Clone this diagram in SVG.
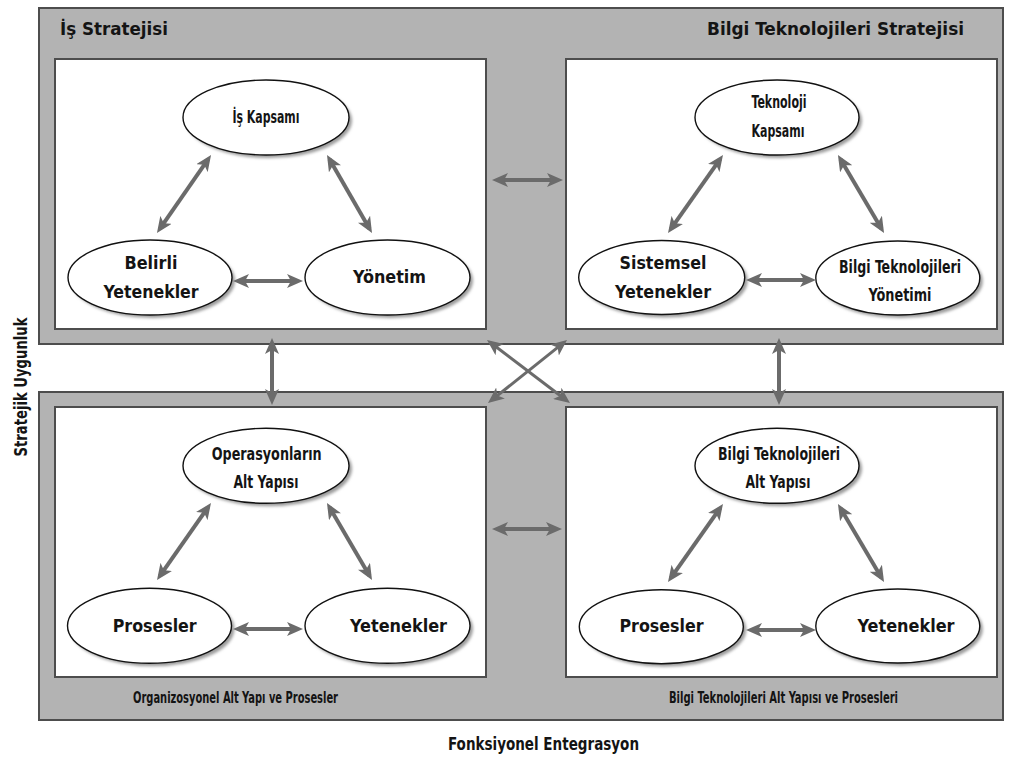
<svg xmlns="http://www.w3.org/2000/svg" width="1010" height="758" viewBox="0 0 1010 758">
  <defs>
    <style>
      .panel{fill:#b3b3b3;stroke:#4d4d4d;stroke-width:2}
      .box{fill:#ffffff;stroke:#4d4d4d;stroke-width:2}
      .node{fill:#ffffff;stroke:#111111;stroke-width:1.4}
      .shadow{fill:#9c9c9c;filter:url(#soft)}
      .arrow{stroke:#6b6b6b;stroke-width:4;fill:none;marker-start:url(#head);marker-end:url(#head)}
      .thin{stroke-width:3}
      text{font-family:"DejaVu Sans Condensed","DejaVu Sans","Liberation Sans",sans-serif;font-weight:bold;fill:#141414}
      .big{font-size:18px}
      .small{font-size:17px}
      .title{font-size:18px}
      .caption{font-size:16px}
      .axis{font-size:17px}
      .mid{text-anchor:middle}
    </style>
    <filter id="soft" x="-10%" y="-10%" width="120%" height="120%">
      <feGaussianBlur stdDeviation="1.5"/>
    </filter>
    <marker id="head" viewBox="0 0 16 14" refX="11" refY="7" markerWidth="16" markerHeight="14" markerUnits="userSpaceOnUse" orient="auto-start-reverse">
      <path d="M0,0 L16,7 L0,14 L4,7 Z" fill="#6b6b6b"/>
    </marker>
  </defs>

  <rect width="1010" height="758" fill="#ffffff"/>

  <!-- outer gray panels -->
  <rect class="panel" x="39" y="8" width="964" height="336"/>
  <rect class="panel" x="39" y="392" width="964" height="328"/>

  <!-- white quadrant boxes -->
  <rect class="box" x="55" y="59" width="431" height="270"/>
  <rect class="box" x="566" y="59" width="431" height="270"/>
  <rect class="box" x="55" y="407" width="431" height="270"/>
  <rect class="box" x="566" y="407" width="431" height="270"/>

  <!-- panel titles and axis labels -->
  <text class="title" x="60" y="35" textLength="108" lengthAdjust="spacingAndGlyphs">İş Stratejisi</text>
  <text class="title" x="707" y="35" textLength="257" lengthAdjust="spacingAndGlyphs">Bilgi Teknolojileri Stratejisi</text>
  <text class="caption mid" x="235.5" y="703" textLength="205" lengthAdjust="spacingAndGlyphs">Organizosyonel Alt Yapı ve Prosesler</text>
  <text class="caption mid" x="783.5" y="703" textLength="229" lengthAdjust="spacingAndGlyphs">Bilgi Teknolojileri Alt Yapısı ve Prosesleri</text>
  <text class="axis mid" x="543.5" y="750" textLength="191" lengthAdjust="spacingAndGlyphs">Fonksiyonel Entegrasyon</text>
  <text class="axis mid" transform="translate(27,387) rotate(-90)" x="0" y="0" textLength="139" lengthAdjust="spacingAndGlyphs">Stratejik Uygunluk</text>

  <!-- Business strategy -->
  <g id="is-kapsami">
    <ellipse class="shadow" cx="269" cy="120.5" rx="83" ry="37.5"/>
    <ellipse class="node" cx="266" cy="117.5" rx="83" ry="37.5"/>
    <text class="small mid" x="266" y="123" textLength="67" lengthAdjust="spacingAndGlyphs">İş Kapsamı</text>
  </g>
  <g id="belirli-yetenekler">
    <ellipse class="shadow" cx="153" cy="280.5" rx="82" ry="37.5"/>
    <ellipse class="node" cx="150" cy="277.5" rx="82" ry="37.5"/>
    <text class="big mid" x="151" y="269" textLength="53" lengthAdjust="spacingAndGlyphs">Belirli</text>
    <text class="big mid" x="151" y="298" textLength="95" lengthAdjust="spacingAndGlyphs">Yetenekler</text>
  </g>
  <g id="yonetim">
    <ellipse class="shadow" cx="390.5" cy="280.5" rx="82.5" ry="37.5"/>
    <ellipse class="node" cx="387.5" cy="277.5" rx="82.5" ry="37.5"/>
    <text class="big mid" x="389.5" y="283" textLength="73" lengthAdjust="spacingAndGlyphs">Yönetim</text>
  </g>

  <!-- IT strategy -->
  <g id="teknoloji-kapsami">
    <ellipse class="shadow" cx="780" cy="120.5" rx="82" ry="37.5"/>
    <ellipse class="node" cx="777" cy="117.5" rx="82" ry="37.5"/>
    <text class="small mid" x="779" y="108" textLength="55" lengthAdjust="spacingAndGlyphs">Teknoloji</text>
    <text class="small mid" x="778" y="137" textLength="53" lengthAdjust="spacingAndGlyphs">Kapsamı</text>
  </g>
  <g id="sistemsel-yetenekler">
    <ellipse class="shadow" cx="664.7" cy="280.5" rx="83" ry="37"/>
    <ellipse class="node" cx="661.7" cy="277.5" rx="83" ry="37"/>
    <text class="big mid" x="663" y="269" textLength="87" lengthAdjust="spacingAndGlyphs">Sistemsel</text>
    <text class="big mid" x="663" y="298" textLength="96" lengthAdjust="spacingAndGlyphs">Yetenekler</text>
  </g>
  <g id="bt-yonetimi">
    <ellipse class="shadow" cx="900.8" cy="281" rx="82" ry="37"/>
    <ellipse class="node" cx="897.8" cy="278" rx="82" ry="37"/>
    <text class="small mid" x="900" y="273" textLength="122" lengthAdjust="spacingAndGlyphs">Bilgi Teknolojileri</text>
    <text class="small mid" x="900" y="301" textLength="63" lengthAdjust="spacingAndGlyphs">Yönetimi</text>
  </g>

  <!-- Organisational infrastructure -->
  <g id="operasyon-alt-yapisi">
    <ellipse class="shadow" cx="269" cy="468.8" rx="83" ry="37.5"/>
    <ellipse class="node" cx="266" cy="465.8" rx="83" ry="37.5"/>
    <text class="small mid" x="266.7" y="460" textLength="110" lengthAdjust="spacingAndGlyphs">Operasyonların</text>
    <text class="small mid" x="266" y="488" textLength="65" lengthAdjust="spacingAndGlyphs">Alt Yapısı</text>
  </g>
  <g id="org-prosesler">
    <ellipse class="shadow" cx="152.5" cy="628.8" rx="82" ry="37.5"/>
    <ellipse class="node" cx="149.5" cy="625.8" rx="82" ry="37.5"/>
    <text class="big mid" x="154.7" y="632" textLength="84" lengthAdjust="spacingAndGlyphs">Prosesler</text>
  </g>
  <g id="org-yetenekler">
    <ellipse class="shadow" cx="390.5" cy="628.8" rx="82.5" ry="37.5"/>
    <ellipse class="node" cx="387.5" cy="625.8" rx="82.5" ry="37.5"/>
    <text class="big mid" x="398.5" y="632" textLength="97" lengthAdjust="spacingAndGlyphs">Yetenekler</text>
  </g>

  <!-- IT infrastructure -->
  <g id="bt-alt-yapisi">
    <ellipse class="shadow" cx="780" cy="468.8" rx="82" ry="37.5"/>
    <ellipse class="node" cx="777" cy="465.8" rx="82" ry="37.5"/>
    <text class="small mid" x="779" y="460" textLength="122" lengthAdjust="spacingAndGlyphs">Bilgi Teknolojileri</text>
    <text class="small mid" x="778" y="488" textLength="65" lengthAdjust="spacingAndGlyphs">Alt Yapısı</text>
  </g>
  <g id="bt-prosesler">
    <ellipse class="shadow" cx="664.3" cy="629.7" rx="82" ry="37"/>
    <ellipse class="node" cx="661.3" cy="626.7" rx="82" ry="37"/>
    <text class="big mid" x="661.5" y="632" textLength="84" lengthAdjust="spacingAndGlyphs">Prosesler</text>
  </g>
  <g id="bt-yetenekler">
    <ellipse class="shadow" cx="900.8" cy="629" rx="82" ry="37"/>
    <ellipse class="node" cx="897.8" cy="626" rx="82" ry="37"/>
    <text class="big mid" x="906" y="632" textLength="97" lengthAdjust="spacingAndGlyphs">Yetenekler</text>
  </g>

  <!-- connectors -->
  <g id="connectors">
    <!-- within quadrants -->
    <line class="arrow" x1="159.8" y1="228.9" x2="208.2" y2="159.1"/>
    <line class="arrow" x1="329.5" y1="159.3" x2="369.5" y2="228.7"/>
    <line class="arrow" x1="238" y1="281" x2="298" y2="281"/>

    <line class="arrow" x1="670.9" y1="228.9" x2="720.1" y2="159.1"/>
    <line class="arrow" x1="840.5" y1="159.3" x2="881.5" y2="228.7"/>
    <line class="arrow" x1="751" y1="280" x2="811" y2="280"/>

    <line class="arrow" x1="159.9" y1="575.9" x2="208.1" y2="507.1"/>
    <line class="arrow" x1="329.5" y1="507.3" x2="369.5" y2="575.7"/>
    <line class="arrow" x1="238" y1="629" x2="298" y2="629"/>

    <line class="arrow" x1="670.9" y1="577.9" x2="720.1" y2="508.1"/>
    <line class="arrow" x1="840.5" y1="508.3" x2="881.5" y2="577.7"/>
    <line class="arrow" x1="751" y1="630" x2="811" y2="630"/>

    <!-- between quadrants -->
    <line class="arrow" x1="497" y1="180" x2="558" y2="180"/>
    <line class="arrow" x1="497" y1="529" x2="557" y2="529"/>
    <line class="arrow" x1="272" y1="343" x2="272" y2="400"/>
    <line class="arrow" x1="779" y1="343" x2="779" y2="400"/>
    <line class="arrow thin" x1="491" y1="343" x2="566" y2="400"/>
    <line class="arrow thin" x1="563.1" y1="343.1" x2="491.9" y2="399.9"/>
  </g>
</svg>
